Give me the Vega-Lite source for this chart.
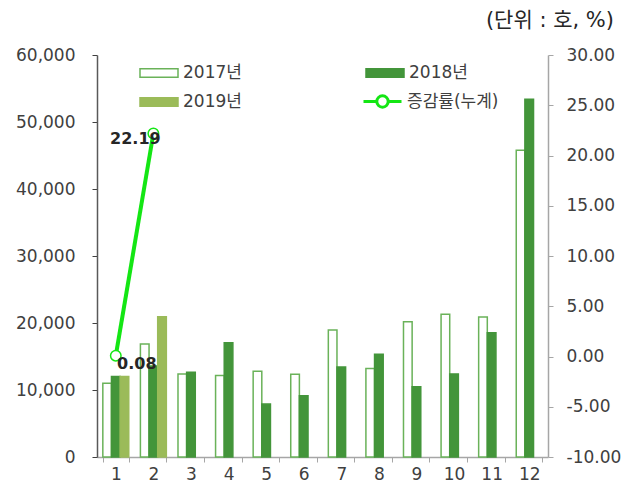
{
  "$schema": "https://vega.github.io/schema/vega-lite/v6.json",
  "width": 451,
  "height": 402,
  "autosize": "none",
  "padding": {"left": 97, "top": 55, "right": 80, "bottom": 37},
  "background": "white",
  "config": {
    "view": {"stroke": null},
    "font": "DejaVu Sans, Noto Sans CJK KR",
    "axis": {"labelFont": "DejaVu Sans", "labelFontSize": 17, "labelColor": "#404040", "grid": false, "title": null},
    "legend": {"labelFont": "DejaVu Sans, Noto Sans CJK KR", "labelFontSize": 17, "labelColor": "#404040"}
  },
  "title": {"text": "(단위 : 호, %)", "anchor": "end", "frame": "group", "fontSize": 21, "fontWeight": "normal", "color": "#262626", "font": "DejaVu Sans, Noto Sans CJK KR", "offset": 15, "dx": 66},
  "datasets": {
    "bars": [
      {"month": 1, "year": "2017년", "value": 11000},
      {"month": 1, "year": "2018년", "value": 12000},
      {"month": 1, "year": "2019년", "value": 12000},
      {"month": 2, "year": "2017년", "value": 16850},
      {"month": 2, "year": "2018년", "value": 13600},
      {"month": 2, "year": "2019년", "value": 20950},
      {"month": 3, "year": "2017년", "value": 12400},
      {"month": 3, "year": "2018년", "value": 12650},
      {"month": 4, "year": "2017년", "value": 12150},
      {"month": 4, "year": "2018년", "value": 17050},
      {"month": 5, "year": "2017년", "value": 12800},
      {"month": 5, "year": "2018년", "value": 7900},
      {"month": 6, "year": "2017년", "value": 12350},
      {"month": 6, "year": "2018년", "value": 9150},
      {"month": 7, "year": "2017년", "value": 18950},
      {"month": 7, "year": "2018년", "value": 13450},
      {"month": 8, "year": "2017년", "value": 13200},
      {"month": 8, "year": "2018년", "value": 15350},
      {"month": 9, "year": "2017년", "value": 20200},
      {"month": 9, "year": "2018년", "value": 10500},
      {"month": 10, "year": "2017년", "value": 21300},
      {"month": 10, "year": "2018년", "value": 12400},
      {"month": 11, "year": "2017년", "value": 20900},
      {"month": 11, "year": "2018년", "value": 18550},
      {"month": 12, "year": "2017년", "value": 45800},
      {"month": 12, "year": "2018년", "value": 53400}
    ],
    "rate": [
      {"month": 1, "series": "증감률(누계)", "rate": 0.08},
      {"month": 2, "series": "증감률(누계)", "rate": 22.19}
    ]
  },
  "encoding": {
    "x": {
      "field": "month", "type": "ordinal",
      "scale": {"domain": [1,2,3,4,5,6,7,8,9,10,11,12], "paddingInner": 0.31, "paddingOuter": 0.155},
      "axis": {"labelAngle": 0, "tickBand": "extent", "domainColor": "#A6A6A6", "tickColor": "#A6A6A6", "tickSize": 5, "labelPadding": 4, "domainWidth": 1.5}
    }
  },
  "layer": [
    {
      "data": {"name": "bars"},
      "mark": {"type": "bar", "strokeWidth": 1.5},
      "encoding": {
        "xOffset": {"field": "year", "type": "nominal", "scale": {"domain": ["2017년", "2018년", "2019년"], "paddingInner": 0, "paddingOuter": 0}},
        "y": {
          "field": "value", "type": "quantitative",
          "scale": {"domain": [0, 60000], "nice": false},
          "axis": {"orient": "left", "values": [0,10000,20000,30000,40000,50000,60000], "format": ",.0f", "domainColor": "#595959", "tickColor": "#404040", "tickSize": 5, "labelPadding": 17, "domainWidth": 1.5}
        },
        "fill": {
          "field": "year", "type": "nominal",
          "scale": {"domain": ["2017년", "2018년", "2019년"], "range": ["#FFFFFF", "#43953A", "#9BBB59"]},
          "legend": {"orient": "none", "legendX": 42, "legendY": -2, "title": null, "columns": 2, "direction": "horizontal", "columnPadding": 121, "rowPadding": 1, "symbolType": "M-1,-0.22H1V0.22H-1Z", "symbolSize": 1444, "symbolStrokeWidth": 1.5, "labelOffset": 4}
        },
        "stroke": {
          "field": "year", "type": "nominal",
          "scale": {"domain": ["2017년", "2018년", "2019년"], "range": ["#6AB259", "#43953A", "#9BBB59"]},
          "legend": {"orient": "none", "legendX": 42, "legendY": -2, "title": null, "columns": 2, "direction": "horizontal", "columnPadding": 121, "rowPadding": 1, "symbolType": "M-1,-0.22H1V0.22H-1Z", "symbolSize": 1444, "symbolStrokeWidth": 1.5, "labelOffset": 4}
        }
      }
    },
    {
      "data": {"name": "rate"},
      "encoding": {
        "y": {
          "field": "rate", "type": "quantitative",
          "scale": {"domain": [-10, 30], "nice": false},
          "axis": {"orient": "right", "values": [-10,-5,0,5,10,15,20,25,30], "format": ".2f", "labelExpr": "replace(datum.label, '−', '-')", "domainColor": "#A6A6A6", "tickColor": "#A6A6A6", "tickSize": 5, "labelPadding": 13, "domainWidth": 1.5}
        }
      },
      "layer": [
        {
          "mark": {"type": "line", "strokeWidth": 4},
          "encoding": {
            "color": {
              "field": "series", "type": "nominal",
              "scale": {"range": ["#14E614"]},
              "legend": {"orient": "none", "legendX": 265, "legendY": 26, "title": null, "symbolType": "M-1,0H-0.3M0.3,0H1M-0.3,0A0.3,0.3,0,1,1,0.3,0A0.3,0.3,0,1,1,-0.3,0", "symbolSize": 1444, "symbolStrokeWidth": 3, "labelOffset": 4,
                "symbolFillColor": "#FFFFFF", "symbolStrokeColor": "#14E614",
                "encode": {"symbols": {"update": {"fill": {"value": "#FFFFFF"}, "stroke": {"value": "#14E614"}, "strokeWidth": {"value": 3}, "opacity": {"value": 1}}}}}
            }
          }
        },
        {
          "mark": {"type": "point", "shape": "circle", "size": 110, "fill": "#FFFFFF", "stroke": "#14E614", "strokeWidth": 1.5, "opacity": 1, "filled": true}
        },
        {
          "transform": [{"filter": "datum.month == 2"}],
          "mark": {"type": "text", "dx": -18, "dy": 6, "fontSize": 16, "fontWeight": "bold", "color": "#262626", "font": "DejaVu Sans"},
          "encoding": {"text": {"field": "rate", "type": "quantitative", "format": ".2f"}}
        },
        {
          "transform": [{"filter": "datum.month == 1"}],
          "mark": {"type": "text", "dx": 21, "dy": 8, "fontSize": 16, "fontWeight": "bold", "color": "#262626", "font": "DejaVu Sans"},
          "encoding": {"text": {"field": "rate", "type": "quantitative", "format": ".2f"}}
        }
      ]
    }
  ],
  "resolve": {"scale": {"y": "independent"}}
}
